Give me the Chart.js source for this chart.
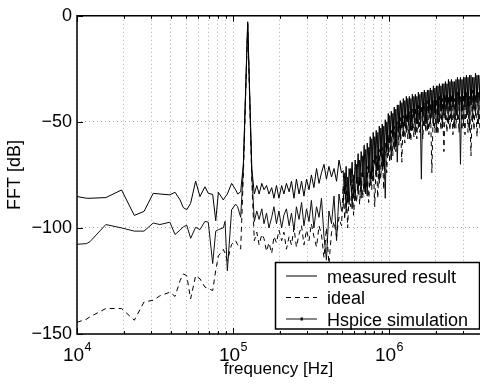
<!DOCTYPE html>
<html>
<head>
<meta charset="utf-8">
<script src="https://cdn.jsdelivr.net/npm/chart.js@4/dist/chart.umd.min.js"></script>
<style>
  html, body { margin: 0; padding: 0; background: #fff; }
  canvas { display: block; }
</style>
</head>
<body>
<canvas id="fftChart" width="480" height="384"></canvas>
<script>
// FFT bins (kHz), shared by all three traces
const freqKHz = [
  10, 11.5, 12.1, 15.3, 19.3, 23.3, 26.9, 30.8, 34, 39.4,
  42.5, 45.8, 48, 50.5, 53.5, 57.6, 61.4, 66.1, 69.4, 74.1,
  77.5, 80.6, 86.7, 88.9, 92, 98, 104, 107.1,
  112, 116.5, 124.2, 132,
  137, 142, 147, 153, 158, 164, 170, 177, 183, 190,
  197, 205, 212, 220, 229, 237, 246, 255, 265, 275,
  285, 296, 307, 318, 330, 343, 356, 369, 383, 397,
  412, 428, 444, 461, 478, 496,
  508, 520, 531, 543, 555, 568, 580, 593, 607, 620,
  634, 648, 663, 678, 693, 709, 725, 741, 758, 775,
  792, 810, 828, 847, 866, 885, 905, 925, 946, 967,
  989, 1011, 1034, 1057, 1081, 1105, 1130, 1155, 1181, 1208,
  1235, 1263, 1291, 1320, 1350, 1380, 1411, 1443, 1475, 1508,
  1542, 1577, 1612, 1648, 1685, 1723, 1762, 1801, 1842, 1883,
  1925, 1968, 2013, 2058, 2104, 2151, 2199, 2249, 2299, 2351,
  2404, 2458, 2513, 2569, 2627, 2686, 2746, 2808, 2871, 2935,
  3001, 3068, 3137, 3208, 3280, 3353, 3428, 3505, 3584, 3664,
  3746, 3830
];

const measuredDb = [
  -85.2, -86.0, -86.0, -85.7, -82.1, -94.1, -92.2, -83.7, -84.0, -84.4,
  -83.2, -86.8, -90.4, -91.4, -88.4, -77.9, -85.2, -80.6, -83.7, -84.2,
  -96.6, -83.2, -86.8, -85.5, -84.0, -79.0, -82.0, -84.0,
  -83, -70, -2.8, -72,
  -84, -80, -84, -79, -82, -80, -84, -81, -86, -80,
  -86, -80, -84, -79, -83, -78, -86, -77, -84, -78,
  -85, -77, -82, -75, -81, -72, -79, -74, -70, -77,
  -71, -76, -72, -78, -68, -74,
  -73, -84, -71, -88, -72, -80, -69, -86, -68, -79,
  -65, -80, -64, -76, -61, -83, -60, -74, -57, -77,
  -55, -70, -54, -73, -52, -66, -51, -71, -49, -64,
  -46, -60, -45, -57, -43, -62, -42, -55, -40, -53,
  -39, -52, -38, -50, -38, -54, -37, -48, -37, -51,
  -36, -49, -36, -47, -35, -51, -35, -46, -34, -48,
  -33, -46, -33, -49, -32, -45, -32, -47, -31, -44,
  -30, -45, -30, -43, -31, -47, -29, -42, -29, -45,
  -29, -43, -28, -46, -28, -42, -29, -44, -27, -41,
  -28, -40
];

const idealDb = [
  -144.5, -143.0, -141.9, -138.0, -138.0, -143.5, -134.9, -134.1, -132.0, -130.3,
  -132.3, -124.8, -121.7, -122.5, -133.4, -122.5, -124.0, -127.9, -128.5, -129.5,
  -120.0, -113.2, -110.1, -112.0, -115.5, -107.7, -106.0, -108.0,
  -110, -75, -4, -78,
  -106, -102, -108, -103, -105, -111, -107, -112, -104, -107,
  -101, -106, -102, -110, -104, -108, -100, -109, -103, -99,
  -108, -101, -106, -98, -104, -109, -99, -103, -114, -100,
  -117, -102, -97, -104, -95, -99,
  -80, -96, -78, -100, -84, -90, -77, -94, -82, -88,
  -76, -89, -74, -86, -78, -84, -71, -88, -73, -82,
  -68, -90, -66, -86, -63, -77, -62, -82, -60, -74,
  -56, -69, -54, -66, -52, -64, -50, -61, -48, -69,
  -47, -60, -46, -58, -45, -59, -44, -57, -43, -58,
  -42, -55, -43, -58, -41, -55, -40, -56, -41, -74,
  -40, -55, -39, -56, -38, -54, -39, -64, -37, -55,
  -38, -54, -37, -56, -39, -53, -36, -55, -38, -54,
  -37, -56, -36, -55, -38, -66, -35, -54, -37, -57,
  -36, -55
];

const hspiceDb = [
  -107.7, -107.4, -106.5, -98.4, -100.0, -101.5, -101.5, -97.7, -98.4, -97.3,
  -103.1, -101.0, -99.5, -98.7, -104.9, -99.7, -100.8, -96.9, -97.3, -116.8,
  -101.5, -100.8, -100.0, -96.9, -120.2, -91.4, -88.8, -90.0,
  -95, -72, -3.5, -75,
  -97, -92, -96, -91, -98, -93, -100, -95, -90, -98,
  -92, -100, -94, -91, -99, -93, -101, -90, -96, -88,
  -99, -91, -97, -87, -100, -90, -95, -86, -104, -115,
  -92, -98, -85, -106, -84, -92,
  -90, -74, -93, -76, -89, -72, -91, -75, -87, -70,
  -84, -68, -86, -66, -83, -63, -85, -62, -80, -58,
  -78, -57, -76, -55, -79, -53, -73, -52, -86, -50,
  -66, -47, -68, -46, -63, -44, -69, -42, -59, -41,
  -57, -40, -55, -39, -58, -39, -54, -38, -56, -38,
  -53, -37, -77, -36, -52, -36, -54, -35, -51, -35,
  -52, -34, -55, -33, -50, -33, -53, -32, -49, -32,
  -51, -31, -50, -31, -53, -30, -49, -30, -70, -30,
  -52, -29, -48, -29, -54, -28, -50, -29, -47, -28,
  -51, -28
];

const seriesNames = ['measured result', 'ideal', 'Hspice simulation'];
const xTicks = [1e4, 2e4, 3e4, 4e4, 5e4, 6e4, 7e4, 8e4, 9e4,
  1e5, 2e5, 3e5, 4e5, 5e5, 6e5, 7e5, 8e5, 9e5, 1e6, 2e6, 3e6];
const xMajor = [1e4, 1e5, 1e6];
const yTicks = [0, -50, -100, -150];

const fontName = '"Liberation Sans", Arial, sans-serif';

function toPoints(vals) {
  return vals.map((v, i) => ({x: freqKHz[i] * 1000, y: v}));
}

// frame, inward ticks, x labels with exponents, legend box
const matlabDecor = {
  id: 'matlabDecor',
  afterDraw(chart) {
    const {ctx, chartArea: {left, top, right, bottom}} = chart;
    const xs = chart.scales.x, ys = chart.scales.y;
    ctx.save();
    ctx.strokeStyle = '#000';
    ctx.lineWidth = 1;
    ctx.beginPath();
    xTicks.forEach(v => {
      const px = Math.round(xs.getPixelForValue(v)) + 0.5;
      const len = xMajor.includes(v) ? 6 : 3;
      ctx.moveTo(px, bottom); ctx.lineTo(px, bottom - len);
      ctx.moveTo(px, top); ctx.lineTo(px, top + len);
    });
    yTicks.forEach(v => {
      const py = Math.round(ys.getPixelForValue(v)) + 0.5;
      ctx.moveTo(left, py); ctx.lineTo(left + 6, py);
    });
    ctx.stroke();

    ctx.lineWidth = 1.5;
    ctx.beginPath();
    ctx.moveTo(right, top); ctx.lineTo(left, top);
    ctx.lineTo(left, bottom); ctx.lineTo(right, bottom);
    ctx.stroke();

    // 10^n tick labels
    ctx.fillStyle = '#000';
    ctx.textBaseline = 'alphabetic';
    xMajor.forEach(v => {
      const px = xs.getPixelForValue(v);
      const expo = String(Math.round(Math.log10(v)));
      ctx.font = '19px ' + fontName;
      const wBase = ctx.measureText('10').width;
      ctx.font = '12.5px ' + fontName;
      const wExp = ctx.measureText(expo).width;
      const x0 = px - (wBase + wExp) / 2;
      ctx.font = '19px ' + fontName;
      ctx.textAlign = 'left';
      ctx.fillText('10', x0, 361);
      ctx.font = '12.5px ' + fontName;
      ctx.fillText(expo, x0 + wBase + 0.5, 351);
    });

    // legend
    const bx = 275.5, by = 262.5, bw = 204, bh = 66.5;
    ctx.fillStyle = '#fff';
    ctx.fillRect(bx, by, bw, bh);
    ctx.lineWidth = 1.5;
    ctx.strokeStyle = '#000';
    ctx.strokeRect(bx, by, bw, bh);
    const rows = [276, 297.5, 319];
    chart.data.datasets.forEach((ds, i) => {
      const y = rows[i];
      ctx.strokeStyle = ds.borderColor;
      ctx.lineWidth = 1;
      ctx.setLineDash(ds.borderDash || []);
      ctx.beginPath();
      ctx.moveTo(286, y); ctx.lineTo(317, y);
      ctx.stroke();
      ctx.setLineDash([]);
      if (i === 2) {
        ctx.fillStyle = ds.borderColor;
        ctx.fillRect(300.5, y - 1.5, 2.5, 3);
      }
      ctx.fillStyle = '#000';
      ctx.font = '18px ' + fontName;
      ctx.textAlign = 'left';
      ctx.fillText(ds.label, 327, y + 6.5);
    });
    ctx.restore();
  }
};

const config = {
  type: 'line',
  data: {
    datasets: [{
      label: seriesNames[0],
      data: toPoints(measuredDb),
      borderColor: '#000',
      borderWidth: 1,
      pointRadius: 0
    }, {
      label: seriesNames[1],
      data: toPoints(idealDb),
      borderColor: '#000',
      borderWidth: 1,
      borderDash: [5, 4],
      pointRadius: 0
    }, {
      label: seriesNames[2],
      data: toPoints(hspiceDb),
      borderColor: '#111',
      borderWidth: 1,
      pointRadius: 0
    }]
  },
  options: {
    responsive: false,
    animation: false,
    devicePixelRatio: 1,
    layout: {padding: {top: 12, right: 0, bottom: 0, left: 0}},
    plugins: {legend: {display: false}, tooltip: {enabled: false}},
    scales: {
      x: {
        type: 'logarithmic',
        min: 1e4,
        max: 3.83e6,
        afterBuildTicks: scale => { scale.ticks = xTicks.map(v => ({value: v})); },
        afterFit: scale => { scale.height = 50; },
        ticks: {display: false},
        grid: {color: '#aaa', lineWidth: 1, drawTicks: false},
        border: {display: false, dash: [1, 3]},
        title: {display: true, text: 'frequency [Hz]', color: '#000',
          font: {family: fontName, size: 17}, padding: {top: 0, bottom: 4}}
      },
      y: {
        min: -150,
        max: 0,
        afterBuildTicks: scale => { scale.ticks = yTicks.map(v => ({value: v})); },
        afterFit: scale => { scale.width = 77; },
        ticks: {
          color: '#000',
          padding: 5,
          font: {family: fontName, size: 18},
          callback: v => (v < 0 ? '\u2212' + Math.abs(v) : String(v))
        },
        grid: {color: '#aaa', lineWidth: 1, drawTicks: false},
        border: {display: false, dash: [1, 3]},
        title: {display: true, text: 'FFT [dB]', color: '#000',
          font: {family: fontName, size: 18}, padding: {top: 4, bottom: 0}}
      }
    }
  },
  plugins: [matlabDecor]
};

new Chart(document.getElementById('fftChart'), config);
</script>
</body>
</html>
